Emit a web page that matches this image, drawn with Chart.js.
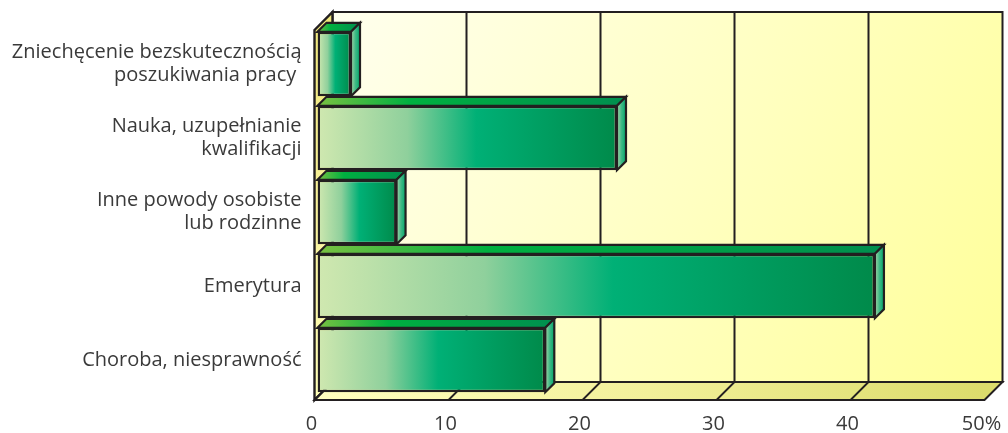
<!DOCTYPE html>
<html>
<head>
<meta charset="utf-8">
<style>
  html, body { margin: 0; padding: 0; background: #fff; }
  #wrap { width: 1008px; height: 433px; }
</style>
<script src="https://cdn.jsdelivr.net/npm/chart.js@4"></script>
</head>
<body>
<div id="wrap"><canvas id="chart1"></canvas></div>
<script>
const categories = [
  ['Zniechęcenie bezskutecznością', 'poszukiwania pracy '],
  ['Nauka, uzupełnianie', 'kwalifikacji'],
  ['Inne powody osobiste', 'lub rodzinne'],
  'Emerytura',
  'Choroba, niesprawność'
];
const shares = [2.5, 22.35, 5.9, 41.6, 17];
const xTicks = [0, 10, 20, 30, 40, 50];

const lineColor = '#231f20';

function linear(ctx, x0, y0, x1, y1, stops) {
  const g = ctx.createLinearGradient(x0, y0, x1, y1);
  stops.forEach(s => g.addColorStop(s[0], s[1]));
  return g;
}

function poly(ctx, pts, fill, width) {
  ctx.beginPath();
  pts.forEach((p, i) => i ? ctx.lineTo(p[0], p[1]) : ctx.moveTo(p[0], p[1]));
  ctx.closePath();
  ctx.fillStyle = fill;
  ctx.fill();
  ctx.lineWidth = width;
  ctx.strokeStyle = lineColor;
  ctx.stroke();
}

function seg(ctx, x0, y0, x1, y1, width) {
  ctx.beginPath();
  ctx.moveTo(x0, y0);
  ctx.lineTo(x1, y1);
  ctx.lineWidth = width;
  ctx.strokeStyle = lineColor;
  ctx.stroke();
}

// the 3d box behind the bars and the top and side faces of the bars
const box3d = {
  id: 'box3d',
  beforeDatasetsDraw(chart) {
    const ctx = chart.ctx;
    const x = chart.scales.x;
    const a = chart.chartArea;
    const frontIn = 3;
    const back = 15;
    const l = a.left - frontIn, r = a.right - frontIn;
    const t = a.top + frontIn, b = a.bottom + frontIn;
    const d = frontIn + back;

    ctx.save();
    ctx.lineJoin = 'miter';
    // back wall
    poly(ctx, [[l + d, t - d], [r + d, t - d], [r + d, b - d], [l + d, b - d]],
      linear(ctx, l + d, t - d, r + d, b - d, [[0, '#ffffee'], [0.45, '#ffffc8'], [1, '#ffff99']]), 2);
    // left wall
    poly(ctx, [[l, t], [l + d, t - d], [l + d, b - d], [l, b]],
      linear(ctx, 0, t - d, 0, b, [[0, '#efe67a'], [0.5, '#f8f19a'], [1, '#ffffb8']]), 2.4);
    // floor
    poly(ctx, [[l, b], [l + d, b - d], [r + d, b - d], [r, b]],
      linear(ctx, l, 0, r, 0, [[0, '#ffffc0'], [0.5, '#f2f09a'], [1, '#dcdc6c']]), 2);

    xTicks.forEach(v => {
      const px = x.getPixelForValue(v) - frontIn;
      if (v > 0 && v < 50) seg(ctx, px + d, t - d, px + d, b - d, 2);
      if (v < 50) seg(ctx, px, b, px + d, b - d, 1.8);
    });

    // top and side faces of the bars
    const depth = 9;
    chart.getDatasetMeta(0).data.forEach(bar => {
      const p = bar.getProps(['x', 'y', 'base', 'height'], true);
      const top = p.y - p.height / 2, bottom = p.y + p.height / 2;
      poly(ctx, [[p.base, top], [p.base + depth, top - depth], [p.x + depth, top - depth], [p.x, top]],
        linear(ctx, p.base, 0, p.x + depth, 0, [[0, '#7ac142'], [0.3, '#00b040'], [1, '#008f4f']]), 2.2);
      poly(ctx, [[p.x, top], [p.x + depth, top - depth], [p.x + depth, bottom - depth], [p.x, bottom]],
        linear(ctx, p.x, 0, p.x + depth, 0, [[0, '#a5d6a7'], [0.5, '#3fb885'], [1, '#00a86b']]), 2.2);
    });
    ctx.restore();
  }
};

function frontFace(c) {
  const chart = c.chart;
  if (!chart.chartArea) return '#00a86b';
  const x = chart.scales.x;
  return linear(chart.ctx, x.getPixelForValue(0), 0, x.getPixelForValue(shares[c.dataIndex]), 0,
    [[0, '#d0e8b0'], [0.3, '#8fd09c'], [0.53, '#00b076'], [1, '#008a4a']]);
}

function renderChart() {
  new Chart(document.getElementById('chart1'), {
    type: 'bar',
    plugins: [box3d],
    data: {
      labels: categories,
      datasets: [{
        data: shares,
        backgroundColor: frontFace,
        borderColor: lineColor,
        borderWidth: 2.5,
        borderSkipped: false,
        barPercentage: 0.87,
        categoryPercentage: 1
      }]
    },
    options: {
      indexAxis: 'y',
      responsive: true,
      maintainAspectRatio: false,
      animation: false,
      layout: { padding: { top: 27, right: 20.5, left: 0, bottom: 0 } },
      plugins: { legend: { display: false }, tooltip: { enabled: false } },
      scales: {
        x: {
          min: 0,
          max: 50,
          afterBuildTicks: s => { s.ticks = xTicks.map(v => ({ value: v })); },
          afterFit: s => { s.height = 36; s.paddingLeft = 0; s.paddingRight = 0; },
          grid: { display: false },
          border: { display: false },
          ticks: {
            maxRotation: 0,
            padding: 7,
            labelOffset: -6,
            color: '#3a3a3a',
            font: { family: '"Open Sans"', size: 20 },
            callback: v => v === 50 ? v + '%' : v
          }
        },
        y: {
          afterFit: s => { s.width = 317.5; s.paddingTop = 0; s.paddingBottom = 0; },
          grid: { display: false },
          border: { display: false },
          ticks: {
            padding: 8,
            color: '#3a3a3a',
            font: { family: '"Open Sans"', size: 20, lineHeight: 1.15 }
          }
        }
      }
    }
  });
}
renderChart();
</script>
</body>
</html>
